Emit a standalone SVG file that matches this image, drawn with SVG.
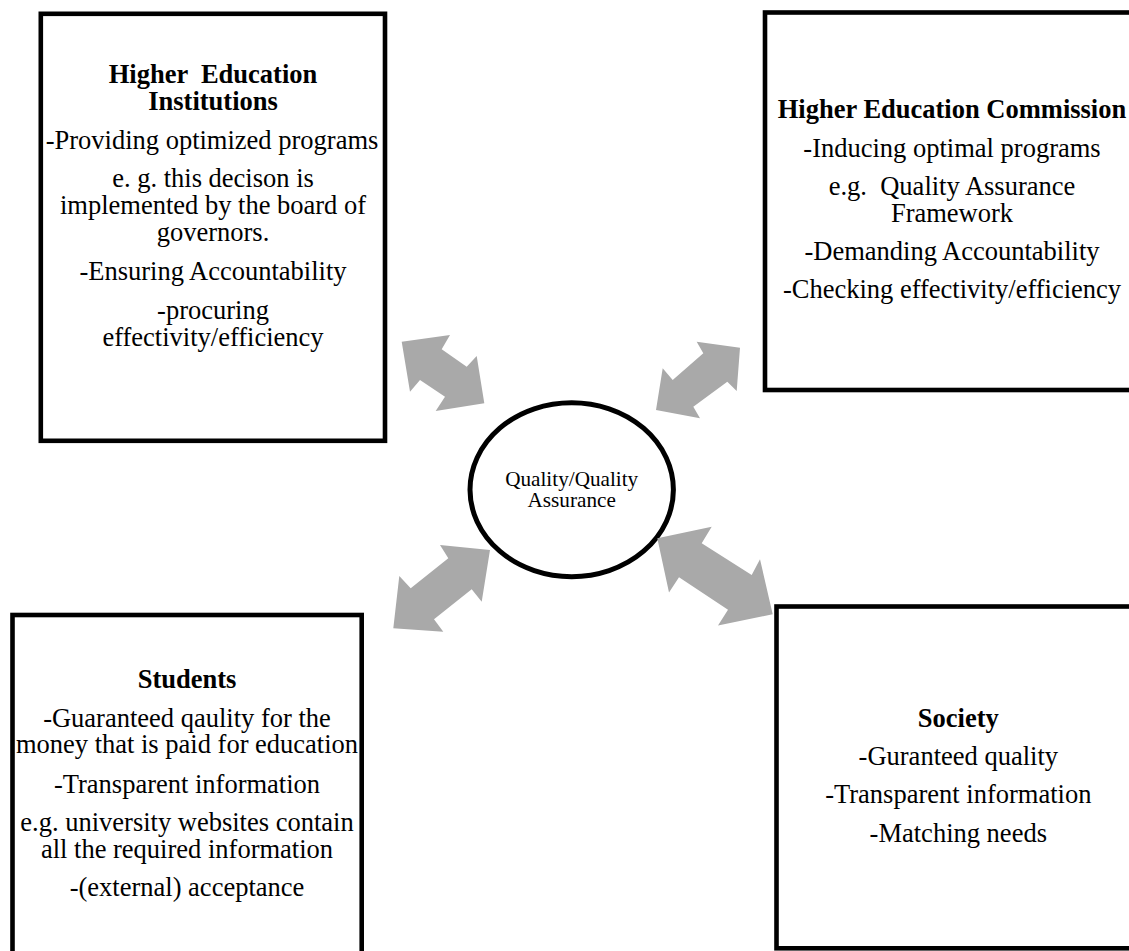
<svg xmlns="http://www.w3.org/2000/svg" width="1129" height="951" viewBox="0 0 1129 951">
<style>
.box{fill:#fff;stroke:#000;stroke-width:4.6}
.t{font-family:"Liberation Serif","Times New Roman",serif;font-size:26.5px;fill:#000;text-anchor:middle}
.b{font-weight:bold}
.c{font-family:"Liberation Serif","Times New Roman",serif;font-size:21.2px;fill:#000;text-anchor:middle}
.arr{fill:#a9a9a9;stroke:none}
</style>
<rect width="1129" height="951" fill="#fff"/>
<g id="node-hei">
<rect class="box" x="40.8" y="13.8" width="344.2" height="427"/>
<text class="t b" xml:space="preserve"><tspan x="213" y="83.3">Higher  Education</tspan><tspan x="213" y="110">Institutions</tspan></text>
<text class="t" x="212" y="148.7">-Providing optimized programs</text>
<text class="t"><tspan x="213" y="187.2">e. g. this decison is</tspan><tspan x="213" y="213.9">implemented by the board of</tspan><tspan x="213" y="240.6">governors.</tspan></text>
<text class="t" x="213" y="280">-Ensuring Accountability</text>
<text class="t"><tspan x="213" y="319">-procuring</tspan><tspan x="213" y="345.7">effectivity/efficiency</tspan></text>
</g>
<g id="node-hec">
<rect class="box" x="765" y="12.5" width="420" height="377.5"/>
<text class="t b" x="952" y="118.3">Higher Education Commission</text>
<text class="t" x="952" y="156.7">-Inducing optimal programs</text>
<text class="t" xml:space="preserve"><tspan x="952" y="195">e.g.  Quality Assurance</tspan><tspan x="952" y="221.7">Framework</tspan></text>
<text class="t" x="952" y="260">-Demanding Accountability</text>
<text class="t" x="952" y="298.3">-Checking effectivity/efficiency</text>
</g>
<g id="node-students">
<rect class="box" x="12.5" y="615" width="349.2" height="400"/>
<text class="t b" x="187" y="688.3">Students</text>
<text class="t"><tspan x="187" y="726.7">-Guaranteed qaulity for the</tspan><tspan x="187" y="753.3">money that is paid for education</tspan></text>
<text class="t" x="187" y="792.7">-Transparent information</text>
<text class="t"><tspan x="187" y="830.5">e.g. university websites contain</tspan><tspan x="187" y="857.5">all the required information</tspan></text>
<text class="t" x="187" y="896">-(external) acceptance</text>
</g>
<g id="node-society">
<rect class="box" x="776.5" y="606.5" width="420" height="341.8"/>
<text class="t b" x="958.3" y="726.7">Society</text>
<text class="t" x="958.3" y="765">-Guranteed quality</text>
<text class="t" x="958.3" y="803.3">-Transparent information</text>
<text class="t" x="958.3" y="841.7">-Matching needs</text>
</g>
<g id="node-qa">
<ellipse cx="571.7" cy="489.7" rx="101.7" ry="87" fill="#fff" stroke="#000" stroke-width="5"/>
<text class="c"><tspan x="571.7" y="485.7">Quality/Quality</tspan><tspan x="571.7" y="506.7">Assurance</tspan></text>
</g>
<g id="connectors">
<polygon class="arr" points="401.7,341.7 450,335 441.7,349.3 466.7,366.7 476.7,356 484.3,403.3 435.7,411 445,396.7 420,380 410,391.7"/>
<polygon class="arr" points="740,347.7 696.7,341.7 703.3,353.3 672.7,380 662.7,368.3 656,410 700,418.3 693.3,406.7 727.3,381.7 736.7,391"/>
<polygon class="arr" points="490,550 440,545 448.3,558.3 410.7,588.3 399.3,576 393.3,628.3 443.3,631.7 434,619.3 471.7,589.3 481.7,601.7"/>
<polygon class="arr" points="657.3,538.3 711.7,526.7 701.7,543.3 751.7,575 760,559.3 772.7,614.3 718,625.5 728,609.8 679,577.3 669,592.5"/>
</g>
</svg>
